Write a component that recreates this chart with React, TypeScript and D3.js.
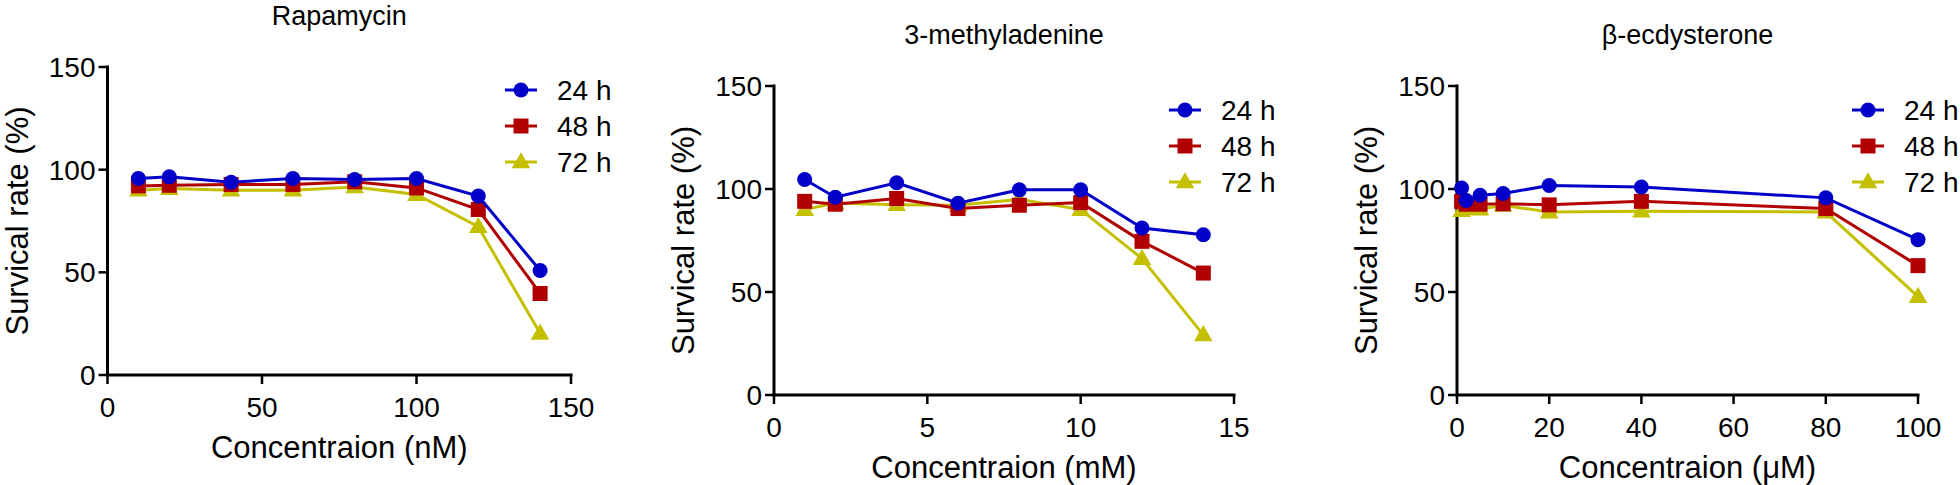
import React from "react";
import * as d3 from "d3";

// ---------- data ----------
const seriesNames = ["24 h", "48 h", "72 h"];
const seriesColors = ["#0000c8", "#b00000", "#c4c000"];
const seriesShapes = ["circle", "square", "triangle"];

const rapaTitle = "Rapamycin";
const rapaXLabel = "Concentraion (nM)";
const rapaX = [10, 20, 40, 60, 80, 100, 120, 140];
const rapa24 = [95.7, 96.5, 93.9, 95.7, 95.2, 95.7, 87.2, 50.9];
const rapa48 = [92.1, 92.4, 92.8, 92.8, 94.1, 91.1, 80.6, 39.7];
const rapa72 = [90.0, 90.8, 90.0, 90.0, 91.6, 87.9, 72.2, 20.3];
const rapaXTicks = [0, 50, 100, 150];

const mTitle = "3-methyladenine";
const mXLabel = "Concentraion (mM)";
const mX = [1, 2, 4, 6, 8, 10, 12, 14];
const m24 = [104.6, 96.0, 103.0, 93.1, 99.6, 99.6, 81.1, 77.8];
const m48 = [94.0, 92.6, 95.4, 90.5, 92.1, 93.4, 74.6, 59.2];
const m72 = [90.0, 93.2, 92.4, 92.1, 95.0, 90.0, 66.2, 29.2];
const mXTicks = [0, 5, 10, 15];

const eTitle = "β-ecdysterone";
const eXLabel = "Concentraion (μM)";
const eX = [1, 2, 5, 10, 20, 40, 80, 100];
const e24 = [100.5, 94.4, 97.0, 97.8, 101.7, 101.0, 95.7, 75.4];
const e48 = [94.0, 92.6, 92.6, 92.8, 92.3, 94.0, 90.5, 62.8];
const e72 = [89.5, 90.5, 90.2, 92.1, 88.8, 89.2, 88.8, 47.8];
const eXTicks = [0, 20, 40, 60, 80, 100];

const yTicks = [0, 50, 100, 150];
const yLabel = "Survical rate (%)";

const FONT = "'Liberation Sans', Arial, Helvetica, sans-serif";

type PanelProps = {
  title: string;
  xLabel: string;
  xs: number[];
  ys: number[][];
  xTicks: number[];
  xMax: number;
  left: number;
  right: number;
  top: number;
  bottom: number;
  titleY: number;
  legendX: number;
  legendY: number;
};

function Marker({ shape, x, y, color }: { shape: string; x: number; y: number; color: string }) {
  if (shape === "circle") return <circle cx={x} cy={y} r={7.5} fill={color} />;
  if (shape === "square") return <rect x={x - 7.5} y={y - 7.5} width={15} height={15} fill={color} />;
  const s = d3.symbol().type(d3.symbolTriangle).size(150)();
  return <path d={s || ""} transform={`translate(${x},${y + 1})`} fill={color} />;
}

function Panel(p: PanelProps) {
  const x = d3.scaleLinear().domain([0, p.xMax]).range([p.left, p.right]);
  const y = d3.scaleLinear().domain([0, 150]).range([p.bottom, p.top]);
  const line = d3
    .line<number>()
    .x((_, i) => x(p.xs[i]))
    .y((d) => y(d));
  const order = [2, 1, 0];
  const cx = (p.left + p.right) / 2;
  const cy = (p.top + p.bottom) / 2;
  return (
    <g fontFamily={FONT} fill="#000">
      <text x={cx} y={p.titleY} textAnchor="middle" fontSize={27}>
        {p.title}
      </text>
      {/* y axis */}
      <line x1={p.left} x2={p.left} y1={p.top} y2={p.bottom} stroke="#000" strokeWidth={3} strokeLinecap="square" />
      {yTicks.map((t) => (
        <g key={"y" + t}>
          <line x1={p.left - 9} x2={p.left} y1={y(t)} y2={y(t)} stroke="#000" strokeWidth={2.5} />
          <text x={p.left - 12} y={y(t)} dy="0.36em" textAnchor="end" fontSize={28}>
            {t}
          </text>
        </g>
      ))}
      {/* x axis */}
      <line x1={p.left} x2={p.right} y1={p.bottom} y2={p.bottom} stroke="#000" strokeWidth={3} strokeLinecap="square" />
      {p.xTicks.map((t) => (
        <g key={"x" + t}>
          <line x1={x(t)} x2={x(t)} y1={p.bottom} y2={p.bottom + 9} stroke="#000" strokeWidth={2.5} />
          <text x={x(t)} y={p.bottom + 42} textAnchor="middle" fontSize={28}>
            {t}
          </text>
        </g>
      ))}
      <text x={cx} y={p.bottom + 83} textAnchor="middle" fontSize={31}>
        {p.xLabel}
      </text>
      <text
        transform={`translate(${p.left - 80},${cy}) rotate(-90)`}
        textAnchor="middle"
        fontSize={31}
      >
        {yLabel}
      </text>
      {/* series */}
      {order.map((si) => (
        <g key={"s" + si}>
          <path d={line(p.ys[si]) || ""} fill="none" stroke={seriesColors[si]} strokeWidth={3} />
          {p.ys[si].map((v, i) => (
            <Marker key={i} shape={seriesShapes[si]} x={x(p.xs[i])} y={y(v)} color={seriesColors[si]} />
          ))}
        </g>
      ))}
      {/* legend */}
      {seriesNames.map((n, i) => {
        const ly = p.legendY + i * 36;
        return (
          <g key={"l" + i}>
            <line x1={p.legendX - 16} x2={p.legendX + 16} y1={ly} y2={ly} stroke={seriesColors[i]} strokeWidth={3} />
            <Marker shape={seriesShapes[i]} x={p.legendX} y={ly} color={seriesColors[i]} />
            <text x={p.legendX + 36} y={ly} dy="0.36em" fontSize={28}>
              {n}
            </text>
          </g>
        );
      })}
    </g>
  );
}

export default function App() {
  return (
    <svg
      width={1960}
      height={485}
      style={{ position: "absolute", left: 0, top: 0, display: "block", background: "#fff" }}
    >
      <rect width={1960} height={485} fill="#fff" />
      <Panel
        title={rapaTitle}
        xLabel={rapaXLabel}
        xs={rapaX}
        ys={[rapa24, rapa48, rapa72]}
        xTicks={rapaXTicks}
        xMax={150}
        left={107.5}
        right={571}
        top={67}
        bottom={375}
        titleY={25}
        legendX={521}
        legendY={90}
      />
      <Panel
        title={mTitle}
        xLabel={mXLabel}
        xs={mX}
        ys={[m24, m48, m72]}
        xTicks={mXTicks}
        xMax={15}
        left={774}
        right={1234}
        top={86}
        bottom={395}
        titleY={44}
        legendX={1185}
        legendY={110}
      />
      <Panel
        title={eTitle}
        xLabel={eXLabel}
        xs={eX}
        ys={[e24, e48, e72]}
        xTicks={eXTicks}
        xMax={100}
        left={1457}
        right={1918}
        top={86}
        bottom={395}
        titleY={44}
        legendX={1868}
        legendY={110}
      />
    </svg>
  );
}
